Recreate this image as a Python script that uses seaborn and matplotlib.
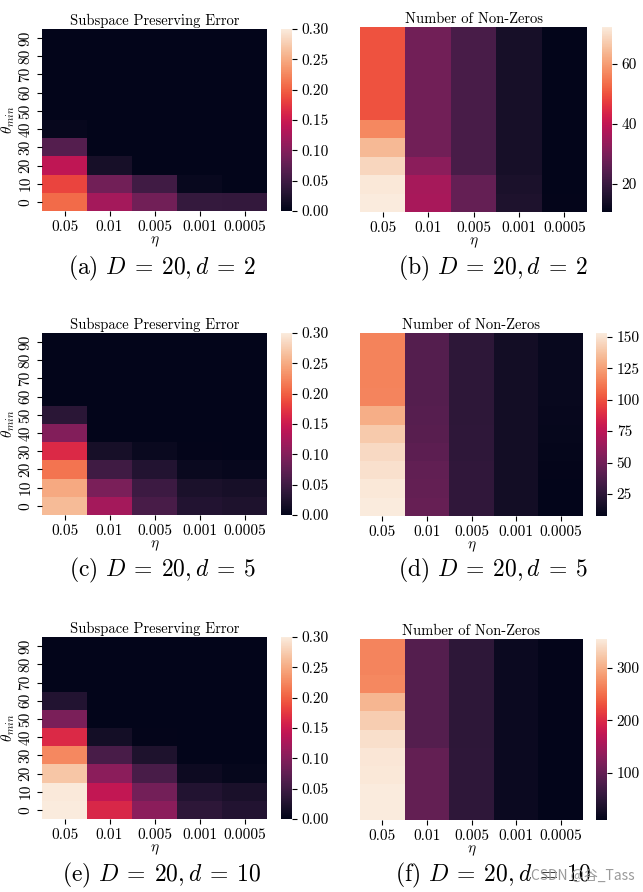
import numpy as np
import pandas as pd
import matplotlib
matplotlib.use('Agg')
import matplotlib.pyplot as plt
import seaborn as sns

# 横轴 eta，纵轴 theta_min（上到下 90 -> 0）
etas = ['0.05', '0.01', '0.005', '0.001', '0.0005']
thetas = ['90', '80', '70', '60', '50', '40', '30', '20', '10', '0']

# Subspace Preserving Error, D=20 d=2（行: 90..0，列: eta）
err_d2 = [
    [0.000, 0.000, 0.000, 0.000, 0.000],
    [0.000, 0.000, 0.000, 0.000, 0.000],
    [0.000, 0.000, 0.000, 0.000, 0.000],
    [0.000, 0.000, 0.000, 0.000, 0.000],
    [0.000, 0.000, 0.000, 0.000, 0.000],
    [0.005, 0.000, 0.000, 0.000, 0.000],
    [0.066, 0.000, 0.000, 0.000, 0.000],
    [0.141, 0.018, 0.000, 0.000, 0.000],
    [0.183, 0.087, 0.051, 0.006, 0.001],
    [0.207, 0.123, 0.087, 0.042, 0.040],
]
# Number of Non-Zeros, D=20 d=2
nnz_d2 = [
    [50.0, 28.5, 22.3, 14.3, 10.6],
    [50.0, 28.5, 22.3, 14.3, 10.6],
    [50.0, 28.5, 22.3, 14.3, 10.6],
    [50.0, 28.5, 22.3, 14.3, 10.6],
    [50.0, 28.5, 22.3, 14.3, 10.6],
    [57.0, 28.5, 22.3, 14.3, 10.6],
    [64.4, 28.5, 22.3, 14.3, 10.6],
    [69.0, 32.2, 22.3, 14.3, 10.7],
    [71.8, 36.0, 26.7, 15.0, 10.8],
    [72.4, 36.2, 26.7, 15.5, 11.0],
]
# D=20 d=5
err_d5 = [
    [0.000, 0.000, 0.000, 0.000, 0.000],
    [0.000, 0.000, 0.000, 0.000, 0.000],
    [0.000, 0.000, 0.000, 0.000, 0.000],
    [0.000, 0.000, 0.000, 0.000, 0.000],
    [0.033, 0.000, 0.000, 0.000, 0.000],
    [0.099, 0.000, 0.000, 0.000, 0.000],
    [0.165, 0.018, 0.008, 0.002, 0.001],
    [0.213, 0.050, 0.027, 0.008, 0.005],
    [0.249, 0.093, 0.048, 0.022, 0.018],
    [0.262, 0.123, 0.057, 0.027, 0.024],
]
nnz_d5 = [
    [115.0, 39.5, 25.0, 14.5, 10.5],
    [115.0, 39.5, 25.0, 14.5, 10.5],
    [115.0, 39.5, 25.0, 14.5, 10.5],
    [115.5, 39.5, 25.0, 14.5, 10.5],
    [130.0, 40.0, 25.0, 14.5, 10.0],
    [140.0, 41.0, 25.5, 14.5, 9.5],
    [146.0, 42.5, 25.5, 14.5, 9.0],
    [149.0, 44.0, 26.0, 14.5, 8.5],
    [151.5, 45.0, 26.0, 14.5, 8.0],
    [153.0, 46.0, 26.0, 14.5, 7.5],
]
# D=20 d=10
err_d10 = [
    [0.000, 0.000, 0.000, 0.000, 0.000],
    [0.000, 0.000, 0.000, 0.000, 0.000],
    [0.000, 0.000, 0.000, 0.000, 0.000],
    [0.027, 0.000, 0.000, 0.000, 0.000],
    [0.093, 0.000, 0.000, 0.000, 0.000],
    [0.165, 0.016, 0.002, 0.000, 0.000],
    [0.225, 0.057, 0.024, 0.001, 0.001],
    [0.270, 0.105, 0.057, 0.010, 0.004],
    [0.298, 0.144, 0.089, 0.027, 0.020],
    [0.300, 0.162, 0.105, 0.036, 0.027],
]
nnz_d10 = [
    [267.0, 86.0, 51.0, 20.0, 12.0],
    [267.0, 86.0, 51.0, 20.0, 12.0],
    [269.0, 86.0, 51.0, 20.0, 12.0],
    [307.0, 86.0, 51.0, 20.0, 12.0],
    [327.0, 86.0, 51.0, 20.0, 11.5],
    [343.0, 86.0, 51.0, 20.0, 11.0],
    [350.0, 98.0, 53.0, 20.0, 11.0],
    [352.0, 98.0, 53.0, 20.0, 10.5],
    [354.0, 98.0, 53.0, 20.0, 10.0],
    [355.0, 98.0, 53.0, 20.0, 10.0],
]
nnz_ticks = [[20, 40, 60], [25, 50, 75, 100, 125, 150], [100, 200, 300]]

captions = [r'(a) $D\:=\:20,d\:=\:2$', r'(b) $D\:=\:20,d\:=\:2$',
            r'(c) $D\:=\:20,d\:=\:5$', r'(d) $D\:=\:20,d\:=\:5$',
            r'(e) $D\:=\:20,d\:=\:10$', r'(f) $D\:=\:20,d\:=\:10$']

plt.rcParams['font.family'] = 'serif'
plt.rcParams['font.serif'] = ['cmr10', 'DejaVu Serif']
plt.rcParams['mathtext.fontset'] = 'cm'
plt.rcParams['axes.formatter.use_mathtext'] = True
plt.rcParams['font.size'] = 10

W, H = 643, 892
fig = plt.figure(figsize=(W / 100, H / 100), dpi=100)


def box(x0, y0, x1, y1):
    # 像素坐标（左上原点）-> figure 坐标
    return [x0 / W, 1 - y1 / H, (x1 - x0) / W, (y1 - y0) / H]


rows = [
    (err_d2, nnz_d2, 29, 211, 27, 212),
    (err_d5, nnz_d5, 333, 515, 333, 516),
    (err_d10, nnz_d10, 637, 819, 639, 820),
]
cap_y = [268, 570, 875]

for i, (err, nnz, t1, b1, t2, b2) in enumerate(rows):
    # 左: Subspace Preserving Error
    ax = fig.add_axes(box(42, t1, 267, b1))
    cax = fig.add_axes(box(281, t1, 292, b1))
    df = pd.DataFrame(err, index=thetas, columns=etas)
    sns.heatmap(df, ax=ax, cbar_ax=cax, cmap='rocket', vmin=0, vmax=0.3)
    ax.set_title('Subspace Preserving Error', fontsize=10.5, pad=3)
    ax.set_xlabel(r'$\eta$', fontsize=11, labelpad=0)
    ax.set_ylabel(r'$\theta_{min}$', fontsize=11, labelpad=1)
    ax.tick_params(labelsize=11)
    cax.tick_params(labelsize=11)
    cax.set_yticks([0, 0.05, 0.1, 0.15, 0.2, 0.25, 0.3])
    cax.set_yticklabels(['0.00', '0.05', '0.10', '0.15', '0.20', '0.25', '0.30'])

    # 右: Number of Non-Zeros
    ax2 = fig.add_axes(box(360, t2, 587 if i == 0 else 583, b2))
    cax2 = fig.add_axes(box(602 if i == 0 else 596, t2, 612 if i == 0 else 607, b2))
    df2 = pd.DataFrame(nnz, index=thetas, columns=etas)
    sns.heatmap(df2, ax=ax2, cbar_ax=cax2, cmap='rocket', yticklabels=False)
    ax2.set_title('Number of Non-Zeros', fontsize=10.5, pad=3)
    ax2.set_xlabel(r'$\eta$', fontsize=11, labelpad=0)
    ax2.set_ylabel('')
    ax2.tick_params(labelsize=11)
    cax2.set_yticks(nnz_ticks[i])
    cax2.set_yticklabels([str(t) for t in nnz_ticks[i]])
    cax2.tick_params(labelsize=11)

    fig.text(162 / W, 1 - cap_y[i] / H, captions[2 * i], fontsize=17,
             ha='center', va='center')
    fig.text(493 / W, 1 - cap_y[i] / H, captions[2 * i + 1], fontsize=17,
             ha='center', va='center')

fig.text(583 / W, 1 - 876 / H, 'CSDN @谷_Tass', fontsize=10, color='#9a9a9a',
         ha='center', va='center', family=['Noto Sans CJK SC', 'DejaVu Sans'])

plt.savefig('out.png', dpi=100)
plt.close()
